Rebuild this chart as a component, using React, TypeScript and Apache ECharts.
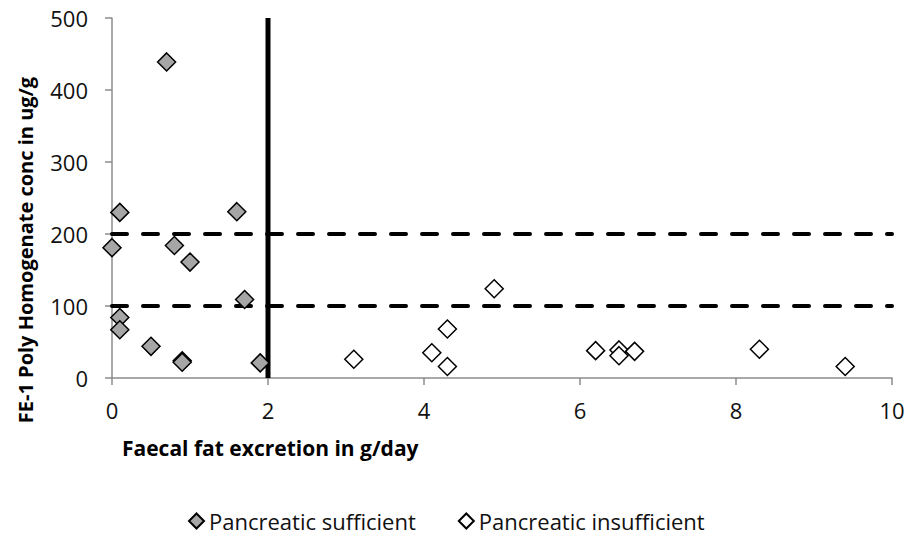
import React, { useEffect, useRef } from "react";
import * as echarts from "echarts";

const sufficientX = [0.7, 0.1, 1.6, 0.0, 0.8, 1.0, 1.7, 0.1, 0.1, 0.5, 0.9, 0.9, 1.9];
const sufficientY = [439, 230, 231, 181, 184, 161, 109, 84, 67, 44, 24, 22, 21];
const insufficientX = [3.1, 4.3, 4.1, 4.3, 4.9, 6.2, 6.5, 6.5, 6.7, 8.3, 9.4];
const insufficientY = [26, 68, 35, 16, 124, 38, 39, 31, 37, 40, 16];
const hThresholds = [100, 200];
const vThreshold = 2;
const xTicks = [0, 2, 4, 6, 8, 10];
const yTicks = [0, 100, 200, 300, 400, 500];

const FONT = "'Open Sans', sans-serif";

export default function App() {
  const ref = useRef<HTMLDivElement>(null);
  useEffect(() => {
    const chart = echarts.init(ref.current!, undefined, { renderer: "svg" });
    const xMin = xTicks[0];
    const xMax = xTicks[xTicks.length - 1];
    const yMin = yTicks[0];
    const yMax = yTicks[yTicks.length - 1];
    const hLines = hThresholds.map((h) => ({
      type: "line",
      data: [[xMin, h], [xMax, h]],
      symbol: "none",
      silent: true,
      z: 1,
      lineStyle: { color: "#000", width: 4, type: [15, 16], cap: "round" },
    }));
    chart.setOption({
      animation: false,
      textStyle: { fontFamily: FONT },
      grid: { left: 112, right: 16, top: 18, bottom: 162, containLabel: false },
      xAxis: {
        type: "value",
        min: xMin,
        max: xMax,
        interval: 2,
        splitLine: { show: false },
        axisLine: { show: true, onZero: false, lineStyle: { color: "#8c8c8c", width: 1.5 } },
        axisTick: { show: true, length: 7, lineStyle: { color: "#8c8c8c", width: 1.5 } },
        axisLabel: { color: "#111", fontSize: 22, margin: 21, fontFamily: FONT },
      },
      yAxis: {
        type: "value",
        min: yMin,
        max: yMax,
        interval: 100,
        splitLine: { show: false },
        axisLine: { show: true, onZero: false, lineStyle: { color: "#8c8c8c", width: 1.5 } },
        axisTick: { show: true, length: 7, lineStyle: { color: "#8c8c8c", width: 1.5 } },
        axisLabel: { color: "#111", fontSize: 22, margin: 24, fontFamily: FONT },
      },
      legend: {
        left: 183,
        top: 505,
        itemWidth: 15,
        itemHeight: 15,
        itemGap: 42,
        textStyle: { fontSize: 22, color: "#111", fontFamily: FONT },
        data: ["Pancreatic sufficient", "Pancreatic insufficient"],
      },
      graphic: [
        {
          type: "text",
          x: 25,
          y: 250,
          rotation: Math.PI / 2,
          style: {
            text: "FE-1 Poly Homogenate conc in ug/g",
            font: `bold 20px ${FONT}`,
            fill: "#000",
            align: "center",
            verticalAlign: "middle",
          },
        },
        {
          type: "text",
          x: 122,
          y: 448,
          style: {
            text: "Faecal fat excretion in g/day",
            font: `bold 21px ${FONT}`,
            fill: "#000",
            align: "left",
            verticalAlign: "middle",
          },
        },
      ],
      series: [
        ...hLines,
        {
          type: "line",
          data: [[vThreshold, yMin], [vThreshold, yMax]],
          symbol: "none",
          silent: true,
          z: 1,
          lineStyle: { color: "#000", width: 5 },
        },
        {
          name: "Pancreatic sufficient",
          type: "scatter",
          symbol: "diamond",
          symbolSize: 18,
          z: 3,
          itemStyle: { color: "#a6a6a6", borderColor: "#000", borderWidth: 1.5, opacity: 1 },
          data: sufficientX.map((x, i) => [x, sufficientY[i]]),
        },
        {
          name: "Pancreatic insufficient",
          type: "scatter",
          symbol: "diamond",
          symbolSize: 18,
          z: 3,
          itemStyle: { color: "#ffffff", borderColor: "#000", borderWidth: 1.5, opacity: 1 },
          data: insufficientX.map((x, i) => [x, insufficientY[i]]),
        },
      ],
    });
    return () => chart.dispose();
  }, []);
  return <div ref={ref} style={{ width: 908, height: 540, position: "absolute", left: 0, top: 0 }} />;
}
